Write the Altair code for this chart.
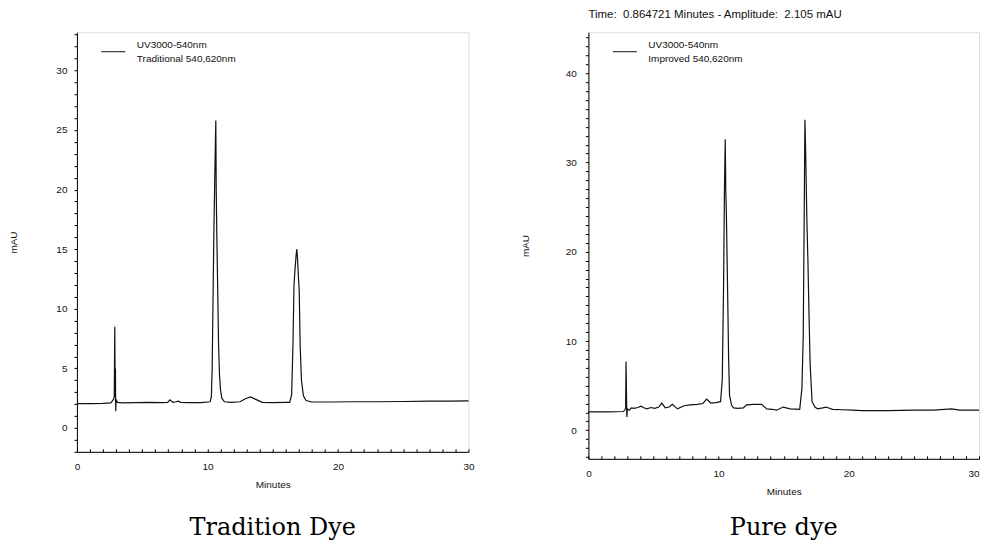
import altair as alt
import pandas as pd

# ---------------- data ----------------
trad_t = [0.0, 1.0, 2.0, 2.6, 2.8, 2.86, 2.9, 2.93, 2.95, 2.97, 3.0, 3.1, 3.5, 4.5, 5.5,
          6.5, 6.95, 7.13, 7.35, 7.6, 7.76, 7.95, 8.6, 9.5, 10.2, 10.3, 10.36, 10.44, 10.5,
          10.56, 10.6, 10.64, 10.67, 10.72, 10.78, 10.85, 10.92, 11.0, 11.1, 11.3, 11.8,
          12.5, 12.9, 13.3, 13.7, 14.2, 15.0, 16.0, 16.3, 16.45, 16.55, 16.63, 16.72, 16.8,
          16.85, 16.9, 16.97, 17.03, 17.1, 17.2, 17.35, 17.55, 18.0, 19.5, 21.0, 23.0, 25.0,
          27.0, 28.5, 30.0]
trad_v = [2.05, 2.05, 2.07, 2.1, 2.4, 2.6, 8.5, 2.6, 5.0, 1.4, 2.4, 2.15, 2.1, 2.12, 2.15,
          2.12, 2.15, 2.37, 2.15, 2.2, 2.25, 2.15, 2.12, 2.12, 2.2, 2.6, 5.0, 12.0, 17.0,
          21.0, 23.5, 25.8, 20.0, 16.0, 12.0, 7.0, 4.5, 3.2, 2.5, 2.2, 2.15,
          2.2, 2.45, 2.6, 2.4, 2.15, 2.12, 2.15, 2.15, 2.8, 7.0, 12.0, 13.5, 14.6,
          15.0, 14.2, 12.6, 11.5, 7.0, 4.0, 2.7, 2.3, 2.18, 2.18, 2.2, 2.2, 2.22,
          2.25, 2.25, 2.28]

pure_t = [0.0, 1.5, 2.7, 2.8, 2.86, 2.89, 2.92, 2.95, 3.0, 3.15, 3.3, 3.5, 3.8, 4.04, 4.3,
          4.5, 4.8, 5.1, 5.4, 5.64, 5.9, 6.2, 6.45, 6.84, 7.35, 7.8, 8.37, 8.8, 9.08, 9.4,
          9.8, 10.15, 10.28, 10.38, 10.45, 10.51, 10.55, 10.6, 10.69, 10.77, 10.84, 11.0,
          11.15, 11.5, 11.9, 12.15, 12.7, 13.3, 13.7, 14.1, 14.45, 14.96, 15.5, 16.23, 16.4,
          16.5, 16.58, 16.63, 16.68, 16.78, 16.86, 16.93, 17.03, 17.18, 17.4, 17.6, 18.0,
          18.25, 18.75, 19.5, 20.27, 21.0, 23.0, 25.0, 26.5, 27.9, 28.5, 30.0]
pure_v = [2.07, 2.07, 2.1, 2.3, 2.5, 7.7, 4.6, 1.5, 2.4, 2.25, 2.5, 2.45, 2.55, 2.7, 2.5,
          2.4, 2.55, 2.45, 2.6, 3.05, 2.5, 2.6, 2.9, 2.4, 2.75, 2.85, 2.9, 3.0, 3.5, 3.05,
          3.1, 3.2, 5.6, 16.0, 27.0, 32.6, 27.0, 24.0, 15.8, 8.0, 3.9, 2.8,
          2.5, 2.45, 2.5, 2.85, 2.9, 2.9, 2.4, 2.35, 2.25, 2.6, 2.4, 2.35, 4.7,
          10.6, 25.0, 34.8, 31.7, 23.5, 19.0, 13.9, 7.4, 3.2, 2.6, 2.4, 2.5,
          2.6, 2.35, 2.3, 2.25, 2.2, 2.2, 2.25, 2.25, 2.4, 2.25, 2.25]

trad_series = "UV3000-540nm|Traditional 540,620nm"
pure_series = "UV3000-540nm|Improved 540,620nm"
captions = ["Tradition Dye", "Pure dye"]
time_text = "Time:\u00a0 0.864721 Minutes - Amplitude:\u00a0 2.105 mAU"
x_ticks = list(range(0, 31))
trad_y_ticks = list(range(-2, 34))
pure_y_ticks = list(range(-3, 45))
trad_y_domain = [-2.0, 33.2]
pure_y_domain = [-3.2, 44.6]

SANS = "Liberation Sans"
SERIF = "DejaVu Serif"
INK = "#111111"


def panel(t, v, series, y_dom, y_ticks, y_every, caption, y_pad, cap_offset, last_align):
    df = pd.DataFrame({"Minutes": t, "mAU": v, "series": series})
    x_axis = alt.Axis(
        values=x_ticks,
        labelExpr="datum.value % 10 == 0 ? datum.label : ''",
        tickSize=alt.ExprRef(expr="-3"),
        tickColor="black", tickWidth=1, domainColor="black", grid=False,
        labelFont=SANS, labelFontSize=10, labelColor=INK, labelPadding=13,
        labelFlush=False, labelAngle=0, labelOverlap=False,
        labelAlign={"condition": {"test": "datum.value == 30", "value": last_align},
                    "value": "center"},
        title="Minutes", titleFont=SANS, titleFontSize=10, titleFontWeight="normal",
        titleColor=INK, titlePadding=8,
    )
    y_axis = alt.Axis(
        values=y_ticks,
        labelExpr="datum.value %% %d == 0 ? datum.label : ''" % y_every,
        tickSize=3,
        tickColor="black", tickWidth=1, domainColor="black", grid=False,
        labelFont=SANS, labelFontSize=10, labelColor=INK, labelPadding=y_pad,
        labelOverlap=False,
        title="mAU", titleFont=SANS, titleFontSize=10, titleFontWeight="normal",
        titleColor=INK, titleX=-63, titleBaseline="middle",
    )
    line = alt.Chart(df).mark_line(strokeWidth=1.2).encode(
        x=alt.X("Minutes:Q", scale=alt.Scale(domain=[0, 30], nice=False, zero=False), axis=x_axis),
        y=alt.Y("mAU:Q", scale=alt.Scale(domain=y_dom, nice=False, zero=False), axis=y_axis),
        color=alt.Color(
            "series:N", title=None,
            scale=alt.Scale(range=[INK]),
            legend=alt.Legend(
                orient="none", legendX=24, legendY=7, padding=0,
                symbolType="stroke", symbolSize=576, symbolStrokeWidth=1,
                labelExpr="split(datum.label, '|')",
                labelFont=SANS, labelFontSize=10, labelColor=INK, labelOffset=11,
                labelLimit=300, labelBaseline="line-bottom",
            ),
        ),
        order=alt.Order("Minutes:Q"),
    )
    title = alt.TitleParams(
        caption, orient="bottom", anchor="middle", font=SERIF, fontSize=24,
        fontWeight="normal", color="black", offset=cap_offset,
    )
    return line, title


left_line, left_title = panel(trad_t, trad_v, trad_series, trad_y_domain, trad_y_ticks, 5,
                              captions[0], 7, 26, "center")
right_line, right_title = panel(pure_t, pure_v, pure_series, pure_y_domain, pure_y_ticks, 10,
                                captions[1], 9, 19, "right")

left = alt.layer(left_line).properties(width=392, height=420, title=left_title)

top_note = alt.Chart(pd.DataFrame({"txt": [time_text]})).mark_text(
    align="left", baseline="middle", font=SANS, fontSize=11.5, color=INK
).encode(text="txt:N", x=alt.value(0), y=alt.value(-17))

right = alt.layer(right_line, top_note).properties(width=391, height=427, title=right_title)

chart = (
    alt.hconcat(left, right, spacing=120, bounds="flush")
    .resolve_scale(color="independent")
    .resolve_legend(color="independent")
    .properties(padding={"left": 0, "top": 0, "right": 0, "bottom": 0})
    .configure_view(stroke="black", strokeWidth=1)
    .configure(background="white", style={"guide-label": {"lineHeight": 14}})
)

chart.save("out.html", embed_options={"renderer": "svg", "actions": False})
